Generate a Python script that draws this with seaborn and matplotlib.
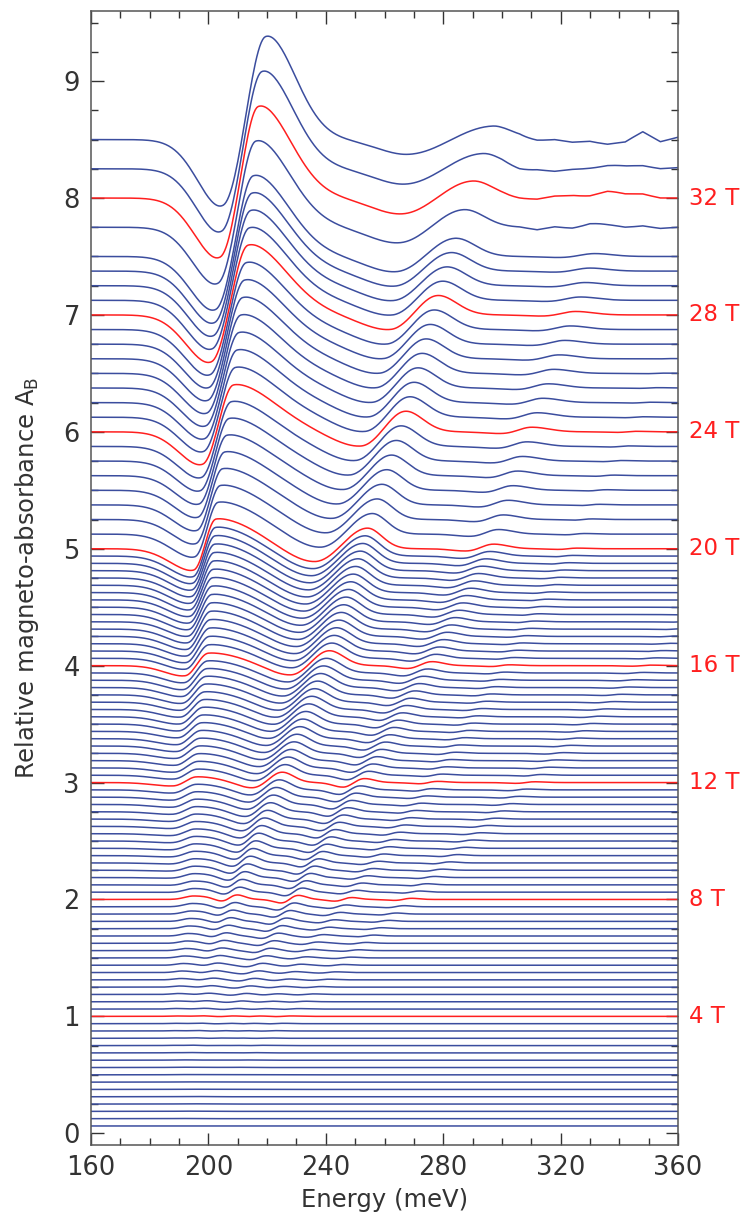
import numpy as np
import pandas as pd
import matplotlib.pyplot as plt
import matplotlib.transforms as mtransforms
from matplotlib.ticker import MultipleLocator
import seaborn as sns

# magnetic fields of the measured spectra (T); every curve is shifted up by B/4
fields_fine = [0.25 * k for k in range(1, 81)]      # 0.25 ... 20 T
fields_mid = [20 + 0.5 * k for k in range(1, 21)]   # 20.5 ... 30 T
fields_top = [31, 32, 33, 34]
labelled_fields = [4, 8, 12, 16, 20, 24, 28, 32]

# transition parameters at these fields
anchor_B = [0, 4, 8, 12, 16, 20, 24, 28, 32, 34]

# strong line (dip / peak pair)
t1_dip_E = [185, 186, 187, 188, 192, 195, 198, 201, 204, 205]
t1_dip_A = [0, 0, 0.0, 0.03, 0.09, 0.19, 0.29, 0.42, 0.53, 0.59]
t1_dip_w = [6, 6, 7, 7, 7, 8, 8, 8.5, 8.5, 8.5]
t1_peak_E = [186, 189, 195, 196, 200, 202.5, 208.5, 213.5, 217, 219.5]
t1_peak_A = [0, 0.004, 0.03, 0.05, 0.11, 0.26, 0.41, 0.61, 0.80, 0.90]
t1_peak_w = [6, 6, 7, 8, 12, 14, 14, 13, 11, 10]

# second line
t2_dip_E = [185, 195, 205.5, 215, 228, 236, 252, 262, 266, 268]
t2_dip_A = [0, 0.004, 0.035, 0.05, 0.09, 0.13, 0.13, 0.13, 0.14, 0.13]
t2_dip_w = [3, 3, 3, 5, 8, 10, 10, 10, 10, 10]
t2_peak_E = [186, 197, 209, 225, 241, 254, 267, 278, 290, 297]
t2_peak_A = [0, 0.006, 0.045, 0.09, 0.13, 0.18, 0.18, 0.17, 0.15, 0.12]
t2_peak_w = [3, 3, 3, 4, 5, 5, 6, 6.5, 7, 6]

# third line
t3_dip_E = [185, 205, 225.5, 246, 268, 288, 300, 314, 326, 331]
t3_dip_A = [0, 0.004, 0.035, 0.04, 0.025, 0.02, 0.015, 0.01, 0.008, 0.005]
t3_dip_w = [3, 3, 3, 3.5, 4, 5, 6, 6, 6, 6]
t3_peak_E = [186, 208, 230, 253, 276, 297, 310, 325, 338, 343]
t3_peak_A = [0, 0.006, 0.04, 0.035, 0.035, 0.04, 0.04, 0.03, 0.02, 0.01]
t3_peak_w = [3, 3, 3, 3.5, 4, 5, 6, 6, 6, 6]

# weak higher lines
t4_dip_E = [185, 214, 244, 273, 297, 320, 340, 360, 380, 390]
t4_dip_A = [0, 0.004, 0.018, 0.012, 0.008, 0.006, 0.005, 0, 0, 0]
t4_dip_w = [3, 3, 3, 4, 4, 4, 4, 4, 4, 4]
t4_peak_E = [186, 217, 248, 277, 302, 325, 345, 365, 385, 395]
t4_peak_A = [0, 0.005, 0.02, 0.012, 0.008, 0.006, 0.005, 0, 0, 0]
t4_peak_w = [3, 3, 3, 4, 4, 4, 4, 4, 4, 4]

t5_dip_E = [185, 224, 265, 306, 345, 380, 400, 420, 440, 450]
t5_dip_A = [0, 0.004, 0.012, 0.008, 0.005, 0, 0, 0, 0, 0]
t5_dip_w = [3, 3, 3, 4, 4, 4, 4, 4, 4, 4]
t5_peak_E = [186, 227, 268, 310, 350, 385, 405, 425, 445, 455]
t5_peak_A = [0, 0.005, 0.014, 0.008, 0.005, 0, 0, 0, 0, 0]
t5_peak_w = [3, 3, 3, 4, 4, 4, 4, 4, 4, 4]

# noise on the highest-field curves at large energy
wiggle_E = [300, 306, 312, 318, 324, 330, 336, 342, 348, 354, 360]
wiggle = {
    34: [0, 0.01, -0.01, 0, -0.02, -0.01, -0.04, -0.03, 0.06, -0.02, 0.02],
    33: [0, -0.02, -0.01, -0.02, 0.0, 0.01, 0.02, 0.01, 0.02, 0.0, 0.01],
    32: [0, -0.01, -0.01, 0.02, 0.03, 0.02, 0.04, 0.02, 0.03, 0.0, 0.0],
    31: [0, 0.0, -0.02, 0.01, 0.0, 0.02, 0.0, -0.01, 0.01, -0.01, 0.0],
}

series = [
    (t1_dip_E, t1_dip_A, t1_dip_w, t1_peak_E, t1_peak_A, t1_peak_w),
    (t2_dip_E, t2_dip_A, t2_dip_w, t2_peak_E, t2_peak_A, t2_peak_w),
    (t3_dip_E, t3_dip_A, t3_dip_w, t3_peak_E, t3_peak_A, t3_peak_w),
    (t4_dip_E, t4_dip_A, t4_dip_w, t4_peak_E, t4_peak_A, t4_peak_w),
    (t5_dip_E, t5_dip_A, t5_dip_w, t5_peak_E, t5_peak_A, t5_peak_w),
]

energy = np.arange(160, 360.25, 0.5)


def half_gauss(E, E0, s_left, s_right):
    s = np.where(E < E0, s_left, s_right)
    return np.exp(-0.5 * ((E - E0) / s) ** 2)


def spectrum(B):
    y = np.zeros_like(energy)
    for line in series:
        dE, dA, dw, pE, pA, pw = (np.interp(B, anchor_B, v) for v in line)
        inner = max(0.38 * (pE - dE), 2.5)
        y -= dA * half_gauss(energy, dE, dw, inner)
        y += pA * half_gauss(energy, pE, inner, pw)
    if B in wiggle:
        y += np.interp(energy, wiggle_E, wiggle[B], left=0)
    return y + B / 4


fields = fields_fine + fields_mid + fields_top
frames = []
for B in fields:
    frames.append(pd.DataFrame({'energy': energy, 'signal': spectrum(B), 'field': f'{B:g}'}))
df = pd.concat(frames, ignore_index=True)

blue = '#3b4d9e'
red = '#ff1f1f'
palette = {f'{B:g}': (red if B in labelled_fields else blue) for B in fields}

sns.set_style('ticks')
plt.rcParams['font.family'] = ['DejaVu Sans']

fig = plt.figure(figsize=(7.51, 12.2), dpi=100)
ax = fig.add_axes([0.1212, 0.0615, 0.7816, 0.9295])

sns.lineplot(data=df, x='energy', y='signal', hue='field', palette=palette,
             hue_order=list(palette.keys()), estimator=None, legend=False,
             linewidth=1.1, ax=ax)

ax.set_xlim(160, 360)
ax.set_ylim(-0.1, 9.6)
ax.xaxis.set_major_locator(MultipleLocator(40))
ax.xaxis.set_minor_locator(MultipleLocator(10))
ax.yaxis.set_major_locator(MultipleLocator(1))
ax.yaxis.set_minor_locator(MultipleLocator(0.25))
ax.tick_params(which='both', direction='in', top=True, right=True,
               color='#333333', labelsize=18.5, labelcolor='#333333')
ax.tick_params(axis='x', which='major', pad=7)
ax.tick_params(axis='y', which='major', pad=8)
ax.tick_params(which='major', length=9, width=1)
ax.tick_params(which='minor', length=5, width=1)
for sp in ax.spines.values():
    sp.set_color('#555555')
    sp.set_linewidth(1.1)

ax.set_xlabel('Energy (meV)', fontsize=17.5, color='#333333', labelpad=5)
ax.set_ylabel(r'Relative magneto-absorbance A$_{\rm B}$', fontsize=17.5,
              color='#333333', labelpad=16)

trans = mtransforms.blended_transform_factory(ax.transAxes, ax.transData)
for B in labelled_fields:
    ax.text(1.018, B / 4, f'{B} T', color=red, fontsize=16.5,
            ha='left', va='center', transform=trans)

fig.savefig('out.png', dpi=100)
